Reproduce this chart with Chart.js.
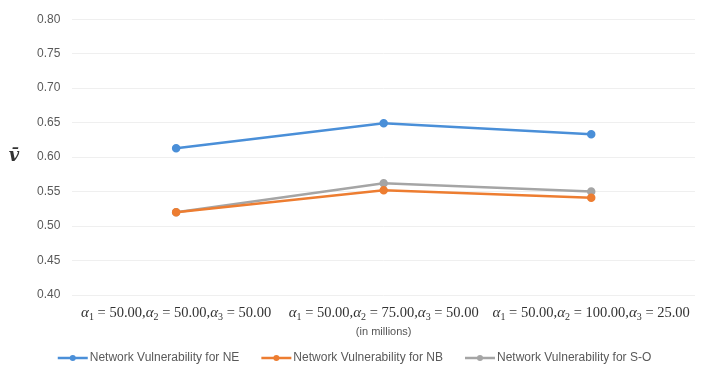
<!DOCTYPE html>
<html>
<head>
<meta charset="utf-8">
<script src="https://cdn.jsdelivr.net/npm/chart.js@4.4.1/dist/chart.umd.min.js"></script>
<style>
  html, body { margin: 0; padding: 0; background: #fff; }
  #wrap { width: 709px; height: 373px; position: relative; }
</style>
</head>
<body>
<div id="wrap"><canvas id="chart"></canvas></div>
<script>
const alpha1 = ['50.00', '50.00', '50.00'];
const alpha2 = ['50.00', '75.00', '100.00'];
const alpha3 = ['50.00', '50.00', '25.00'];
const categories = alpha1.map((a, i) => `α₁ = ${a},α₂ = ${alpha2[i]},α₃ = ${alpha3[i]}`);
const seriesNames = ['Network Vulnerability for NE', 'Network Vulnerability for NB', 'Network Vulnerability for S-O'];
const neValues = [0.613, 0.649, 0.633];
const nbValues = [0.520, 0.552, 0.541];
const soValues = [0.520, 0.562, 0.550];
const seriesColors = ['#4a8fd8', '#ed7d31', '#a5a5a5'];
const yTicks = [0.40, 0.45, 0.50, 0.55, 0.60, 0.65, 0.70, 0.75, 0.80];

const labelFont = '14.5px "Liberation Serif"';
const alphaFont = 'italic 15px "Liberation Serif"';
const subFont = '10px "Liberation Serif"';

// x labels drawn by hand so the alphas can be italic with subscripts
const mathLabels = {
    id: 'mathLabels',
    afterDraw(chart) {
        const ctx = chart.ctx;
        const xs = chart.scales.x;
        ctx.save();
        ctx.fillStyle = '#333';
        ctx.textBaseline = 'alphabetic';
        ctx.textAlign = 'left';
        categories.forEach((c, i) => {
            const parts = [];
            const vals = [alpha1[i], alpha2[i], alpha3[i]];
            vals.forEach((v, k) => {
                parts.push({ t: 'α', f: alphaFont, dy: 0 });
                parts.push({ t: String(k + 1), f: subFont, dy: 3 });
                parts.push({ t: ' = ' + v + (k < 2 ? ',' : ''), f: labelFont, dy: 0 });
            });
            let w = 0;
            parts.forEach(p => { ctx.font = p.f; p.w = ctx.measureText(p.t).width; w += p.w; });
            let x = xs.getPixelForTick(i) - w / 2;
            const base = chart.chartArea.bottom + 22;
            parts.forEach(p => {
                ctx.font = p.f;
                ctx.fillText(p.t, x, base + p.dy);
                x += p.w;
            });
        });
        ctx.restore();
    }
};

// legend: line with a round marker, centred under the chart
const lineLegend = {
    id: 'lineLegend',
    afterDraw(chart) {
        const ctx = chart.ctx;
        const y = 358;
        const lineW = 30, gap = 2, spacing = 22;
        ctx.save();
        ctx.font = '12px "Liberation Sans"';
        ctx.textBaseline = 'middle';
        const widths = seriesNames.map(n => ctx.measureText(n).width);
        const total = widths.reduce((s, w) => s + lineW + gap + w, 0) + spacing * (seriesNames.length - 1);
        let x = (chart.width - total) / 2;
        seriesNames.forEach((name, i) => {
            ctx.strokeStyle = seriesColors[i];
            ctx.lineWidth = 2.5;
            ctx.beginPath();
            ctx.moveTo(x, y);
            ctx.lineTo(x + lineW, y);
            ctx.stroke();
            ctx.fillStyle = seriesColors[i];
            ctx.beginPath();
            ctx.arc(x + lineW / 2, y, 3, 0, Math.PI * 2);
            ctx.fill();
            ctx.fillStyle = '#595959';
            ctx.fillText(name, x + lineW + gap, y);
            x += lineW + gap + widths[i] + spacing;
        });
        ctx.restore();
    }
};

// the v-bar label at the left of the y axis
const yTitle = {
    id: 'yTitle',
    afterDraw(chart) {
        const ctx = chart.ctx;
        const y = chart.scales.y.getPixelForValue(0.60);
        ctx.save();
        ctx.fillStyle = '#333';
        ctx.font = 'italic bold 18px "DejaVu Serif"';
        ctx.textAlign = 'center';
        ctx.textBaseline = 'middle';
        ctx.fillText('v\u0304', 14, y - 1);
        ctx.restore();
    }
};

const makeSet = (label, data, color) => ({
    label: label,
    data: data,
    borderColor: color,
    backgroundColor: color,
    borderWidth: 2.5,
    pointRadius: 3,
    pointHoverRadius: 3,
    pointStyle: 'circle',
    tension: 0
});

new Chart(document.getElementById('chart').getContext('2d'), {
    type: 'line',
    data: {
        labels: categories,
        datasets: [
            makeSet(seriesNames[0], neValues, seriesColors[0]),
            makeSet(seriesNames[1], nbValues, seriesColors[1]),
            makeSet(seriesNames[2], soValues, seriesColors[2])
        ]
    },
    options: {
        responsive: true,
        maintainAspectRatio: false,
        animation: false,
        layout: { padding: { left: 25, right: 14, top: 7, bottom: 34 } },
        scales: {
            x: {
                offset: true,
                grid: { display: false },
                border: { display: false },
                ticks: {
                    color: 'rgba(0,0,0,0)',
                    font: { family: '"Liberation Serif"', size: 14 },
                    maxRotation: 0,
                    autoSkip: false,
                    padding: 2
                },
                title: {
                    display: true,
                    text: '(in millions)',
                    color: '#555',
                    font: { family: '"Liberation Sans"', size: 11 },
                    padding: { top: 2, bottom: 0 }
                }
            },
            y: {
                min: yTicks[0],
                max: yTicks[yTicks.length - 1],
                afterBuildTicks: (axis) => { axis.ticks = yTicks.map(v => ({ value: v })); },
                ticks: {
                    color: '#595959',
                    font: { family: '"Liberation Sans"', size: 12 },
                    padding: 12,
                    callback: (v) => v.toFixed(2)
                },
                grid: { color: '#efefef', drawTicks: false },
                border: { display: false }
            }
        },
        plugins: {
            legend: { display: false },
            tooltip: { enabled: false }
        }
    },
    plugins: [mathLabels, lineLegend, yTitle]
});
</script>
</body>
</html>
